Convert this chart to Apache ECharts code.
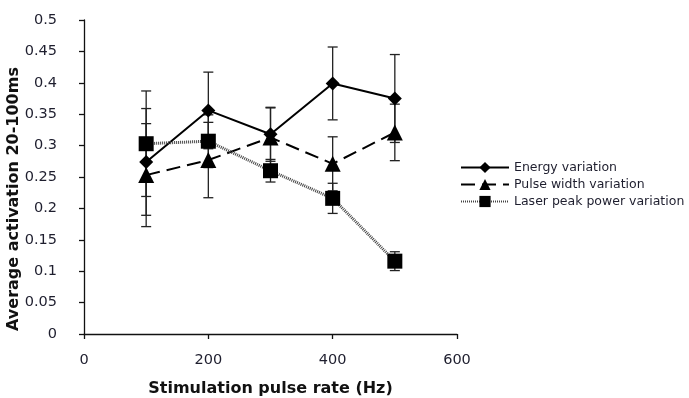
<!DOCTYPE html>
<html>
<head>
<meta charset="utf-8">
<script src="https://cdn.jsdelivr.net/npm/echarts@6/dist/echarts.min.js"></script>
<style>
html, body { margin: 0; padding: 0; background: #fff; }
#chart { width: 689px; height: 398px; }
</style>
</head>
<body>
<div id="chart"></div>
<script>
// stimulation pulse rate (Hz)
var rates = [100, 200, 300, 400, 500];

var energy = [0.274, 0.356, 0.318, 0.399, 0.375];
var energyErr = [0.085, 0.061, 0.043, 0.058, 0.070];

var pulse = [0.253, 0.277, 0.313, 0.271, 0.321];
var pulseErr = [0.082, 0.060, 0.047, 0.043, 0.045];

var laser = [0.303, 0.307, 0.260, 0.216, 0.116];
var laserErr = [0.084, 0.042, 0.018, 0.024, 0.015];

var names = ['Energy variation', 'Pulse width variation', 'Laser peak power variation'];
var yTitle = 'Average activation 20-100ms';

var textColor = '#1e1e2e';
var font = 'DejaVu Sans';

function points(vals) {
    return rates.map(function (x, i) { return [x, vals[i]]; });
}

function bars(vals, errs) {
    return rates.map(function (x, i) { return [x, vals[i] - errs[i], vals[i] + errs[i]]; });
}

// error bars: vertical line with short caps
function renderErr(params, api) {
    var lo = api.coord([api.value(0), api.value(1)]);
    var hi = api.coord([api.value(0), api.value(2)]);
    var cap = 5;
    var style = { stroke: '#222', lineWidth: 1.3 };
    return {
        type: 'group',
        children: [
            { type: 'line', shape: { x1: lo[0], y1: lo[1], x2: hi[0], y2: hi[1] }, style: style },
            { type: 'line', shape: { x1: lo[0] - cap, y1: lo[1], x2: lo[0] + cap, y2: lo[1] }, style: style },
            { type: 'line', shape: { x1: hi[0] - cap, y1: hi[1], x2: hi[0] + cap, y2: hi[1] }, style: style }
        ]
    };
}

var chart = echarts.init(document.getElementById('chart'));

var option = {
    backgroundColor: '#fff',
    animation: false,
    textStyle: { fontFamily: font, color: textColor },
    grid: { left: 84, right: 232, top: 20, bottom: 64, outerBoundsMode: 'none', containLabel: false },
    // y axis title drawn by hand so it stays clear of the tick labels
    graphic: [{
        type: 'text',
        left: 6,
        top: 'middle',
        rotation: Math.PI / 2,
        style: {
            text: yTitle,
            font: 'bold 16px "DejaVu Sans"',
            fill: '#111'
        }
    }],
    legend: {
        data: names,
        orient: 'vertical',
        left: 460,
        top: 161,
        padding: 0,
        itemWidth: 48,
        itemHeight: 14,
        itemGap: 4,
        textStyle: { fontFamily: font, fontSize: 12.5, color: textColor }
    },
    xAxis: {
        type: 'value',
        min: 0,
        max: 600,
        interval: 200,
        name: 'Stimulation pulse rate (Hz)',
        nameLocation: 'middle',
        nameGap: 47,
        nameTextStyle: { fontFamily: font, fontSize: 16, fontWeight: 'bold', color: '#111' },
        axisLine: { lineStyle: { color: '#111', width: 1.3 } },
        axisTick: { length: 5, lineStyle: { color: '#111', width: 1.3 } },
        axisLabel: { fontSize: 14.5, color: textColor, margin: 19 },
        splitLine: { show: false }
    },
    yAxis: {
        type: 'value',
        min: 0,
        max: 0.5,
        interval: 0.05,
        axisLine: { show: true, lineStyle: { color: '#111', width: 1.3 } },
        axisTick: { show: true, length: 5, lineStyle: { color: '#111', width: 1.3 } },
        axisLabel: { fontSize: 14.5, color: textColor, margin: 27 },
        splitLine: { show: false }
    },
    series: [
        { type: 'custom', renderItem: renderErr, data: bars(energy, energyErr), z: 1, silent: true },
        { type: 'custom', renderItem: renderErr, data: bars(pulse, pulseErr), z: 1, silent: true },
        { type: 'custom', renderItem: renderErr, data: bars(laser, laserErr), z: 1, silent: true },
        {
            name: names[0], type: 'line', data: points(energy), z: 3,
            symbol: 'diamond', symbolSize: 14,
            itemStyle: { color: '#000' },
            lineStyle: { color: '#000', width: 2, type: 'solid' }
        },
        {
            name: names[1], type: 'line', data: points(pulse), z: 3,
            symbol: 'triangle', symbolSize: 16,
            itemStyle: { color: '#000' },
            lineStyle: { color: '#000', width: 2, type: [14, 7] }
        },
        {
            name: names[2], type: 'line', data: points(laser), z: 3,
            symbol: 'rect', symbolSize: 15,
            itemStyle: { color: '#000' },
            lineStyle: { color: '#444', width: 3, type: [1, 1] }
        }
    ]
};

chart.setOption(option);
</script>
</body>
</html>
